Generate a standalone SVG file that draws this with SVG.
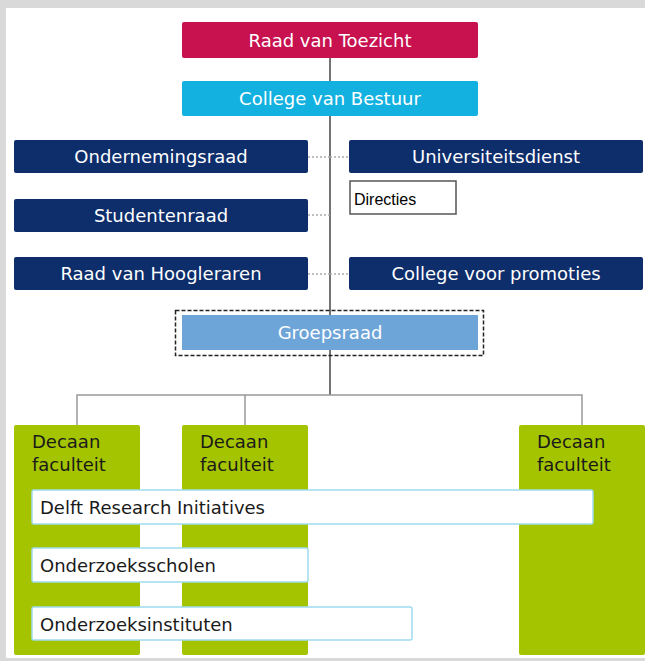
<svg xmlns="http://www.w3.org/2000/svg" width="645" height="661" viewBox="0 0 645 661">
<style>
.nav{fill:#0d2d6b}
.wt{fill:#ffffff;font-family:"DejaVu Sans",Verdana,sans-serif;font-size:18px;text-anchor:middle}
.gr{fill:#a5c400}
.dk{fill:#1a1a1a;font-family:"DejaVu Sans",Verdana,sans-serif;font-size:18px}
.wb{fill:#ffffff;stroke:#9fdcef;stroke-width:1.5}
.ln{stroke:#444;stroke-width:1.5;fill:none}
.lg{stroke:#999;stroke-width:1.5;fill:none}
.dot{stroke:#aaa;stroke-width:1.5;stroke-dasharray:2 2;fill:none}
</style>
<rect width="645" height="661" fill="#d9d9d9"/>
<rect x="6" y="8" width="639" height="650" fill="#ffffff"/>
<g id="connectors">
<line class="ln" x1="330" y1="58" x2="330" y2="395"/>
<line class="dot" x1="308" y1="157" x2="330" y2="157"/>
<line class="dot" x1="330" y1="157" x2="349" y2="157"/>
<line class="dot" x1="308" y1="215" x2="330" y2="215"/>
<line class="dot" x1="308" y1="274" x2="330" y2="274"/>
<line class="dot" x1="330" y1="274" x2="349" y2="274"/>
<path class="lg" d="M77 425V395H582V425M245 395V425"/>
</g>
<g id="raad-van-toezicht"><rect x="182" y="22" width="296" height="36" rx="2" fill="#c8114f"/><text class="wt" x="330" y="47">Raad van Toezicht</text></g>
<g id="college-van-bestuur"><rect x="182" y="81" width="296" height="35" rx="2" fill="#12b1e0"/><text class="wt" x="330" y="105" fill="#dff4fb">College van Bestuur</text></g>
<g id="ondernemingsraad"><rect class="nav" x="14" y="140" width="294" height="33" rx="2"/><text class="wt" x="161" y="163">Ondernemingsraad</text></g>
<g id="universiteitsdienst"><rect class="nav" x="349" y="140" width="294" height="33" rx="2"/><text class="wt" x="496" y="163">Universiteitsdienst</text></g>
<g id="directies"><rect x="350" y="181" width="106" height="33" fill="#ffffff" stroke="#555" stroke-width="1.5"/><text x="354" y="205" font-family="'Liberation Sans',Arial,sans-serif" font-size="16" fill="#000">Directies</text></g>
<g id="studentenraad"><rect class="nav" x="14" y="199" width="294" height="33" rx="2"/><text class="wt" x="161" y="222">Studentenraad</text></g>
<g id="raad-van-hoogleraren"><rect class="nav" x="14" y="257" width="294" height="33" rx="2"/><text class="wt" x="161" y="280">Raad van Hoogleraren</text></g>
<g id="college-voor-promoties"><rect class="nav" x="349" y="257" width="294" height="33" rx="2"/><text class="wt" x="496" y="280">College voor promoties</text></g>
<g id="groepsraad"><rect x="175.5" y="310.5" width="308" height="45" fill="none" stroke="#222" stroke-width="1.5" stroke-dasharray="4 2"/><rect x="182" y="315" width="296" height="35" fill="#6da5d8"/><text class="wt" x="330" y="339" fill="#e8f1fa">Groepsraad</text></g>
<g id="decaan-1"><rect class="gr" x="14" y="425" width="126" height="230" rx="2"/><text class="dk" x="32" y="448">Decaan</text><text class="dk" x="32" y="471">faculteit</text></g>
<g id="decaan-2"><rect class="gr" x="182" y="425" width="126" height="230" rx="2"/><text class="dk" x="200" y="448">Decaan</text><text class="dk" x="200" y="471">faculteit</text></g>
<g id="decaan-3"><rect class="gr" x="519" y="425" width="126" height="230" rx="2"/><text class="dk" x="537" y="448">Decaan</text><text class="dk" x="537" y="471">faculteit</text></g>
<g id="delft-research-initiatives"><rect class="wb" x="32" y="490" width="561" height="34" rx="2"/><text class="dk" x="40" y="514">Delft Research Initiatives</text></g>
<g id="onderzoeksscholen"><rect class="wb" x="32" y="548" width="276" height="34" rx="2"/><text class="dk" x="40" y="572">Onderzoeksscholen</text></g>
<g id="onderzoeksinstituten"><rect class="wb" x="32" y="607" width="380" height="33" rx="2"/><text class="dk" x="40" y="631">Onderzoeksinstituten</text></g>
</svg>
